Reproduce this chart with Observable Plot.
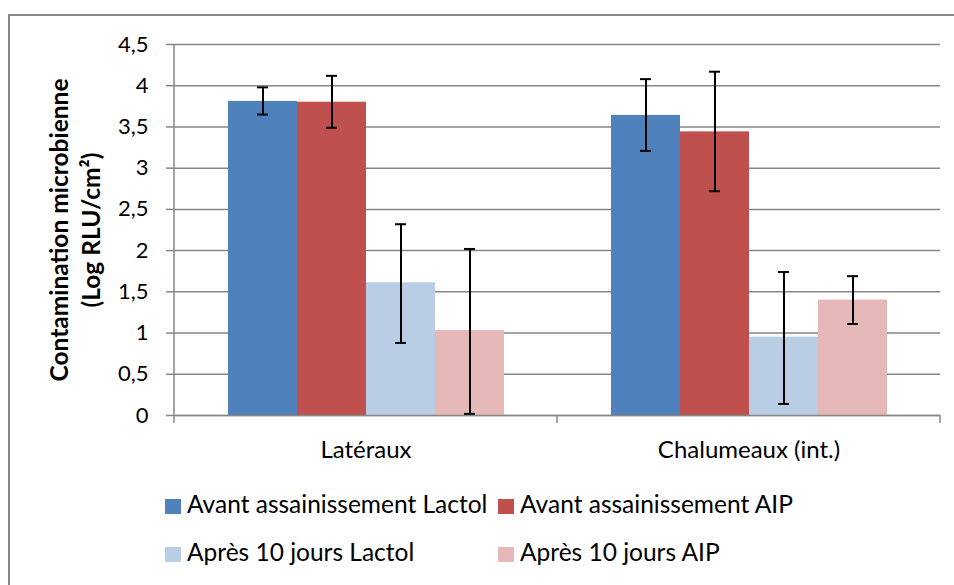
<!DOCTYPE html>
<html><head><meta charset="utf-8">
<script src="https://cdn.jsdelivr.net/npm/d3@7"></script>
<script src="https://cdn.jsdelivr.net/npm/@observablehq/plot@0.6"></script>
<style>
body{margin:0;background:#fff;font-family:Lato,"Open Sans",sans-serif;color:#000;}
#wrap{position:relative;width:954px;height:585px;overflow:hidden;background:#fff;}
#border{position:absolute;left:8px;top:14px;width:980px;height:620px;border:2px solid #878787;box-sizing:border-box;}
#chart{position:absolute;left:0;top:0;}
#ytitle{position:absolute;left:-85px;top:198px;width:320px;height:64px;transform:rotate(-90deg);transform-origin:50% 50%;text-align:center;font-weight:bold;font-size:24.5px;line-height:32px;white-space:nowrap;}
.lg{position:absolute;font-size:24.5px;line-height:28px;white-space:nowrap;}
.sw{position:absolute;width:16px;height:15px;}
</style>
</head><body>
<div id="wrap"><div id="border"></div><div id="chart"></div>
<div id="ytitle">Contamination microbienne<br>(Log RLU/cm²)</div>
<div id="legend"></div>
</div>
<script>
const categories = ["Latéraux", "Chalumeaux (int.)"];
const series = ["Avant assainissement Lactol", "Avant assainissement AIP", "Après 10 jours Lactol", "Après 10 jours AIP"];
const colors = ["#4F81BD", "#C0504D", "#B9CDE5", "#E6B9B8"];
const means = [[3.81, 3.80, 1.61, 1.03], [3.64, 3.44, 0.95, 1.40]];
const errLow = [[3.65, 3.49, 0.88, 0.02], [3.21, 2.72, 0.14, 1.11]];
const errHigh = [[3.98, 4.12, 2.32, 2.02], [4.08, 4.17, 1.74, 1.69]];
const yTicks = [0, 0.5, 1, 1.5, 2, 2.5, 3, 3.5, 4, 4.5];

const data = [];
categories.forEach((c, i) => series.forEach((s, j) => data.push({cat: c, series: s, value: means[i][j], lo: errLow[i][j], hi: errHigh[i][j]})));

const fmt = d => String(d).replace(".", ",");
const grey = "#878787";

const plot = Plot.plot({
  width: 954, height: 470,
  marginLeft: 174, marginRight: 14, marginTop: 44, marginBottom: 55,
  style: {fontFamily: "Lato, 'Open Sans', sans-serif", color: "#000", background: "transparent"},
  fx: {domain: categories, padding: 0, label: null},
  x: {domain: series, paddingInner: 0, paddingOuter: 0.755, axis: null},
  y: {domain: [0, 4.5], label: null},
  color: {domain: series, range: colors},
  marks: [
    Plot.gridY(yTicks, {stroke: grey, strokeOpacity: 1, strokeWidth: 1.5}),
    Plot.axisY(yTicks, {tickSize: 8, tickPadding: 18, stroke: grey, strokeOpacity: 1, strokeWidth: 1.5, fontSize: 22, fill: "#000", tickFormat: fmt, label: null}),
    Plot.barY(data, {fx: "cat", x: "series", y: "value", fill: "series"}),
    Plot.ruleY([0], {stroke: grey, strokeWidth: 1.5}),
    Plot.ruleX(data, {fx: "cat", x: "series", y1: "lo", y2: "hi", stroke: "#000", strokeWidth: 2}),
    Plot.tickY(data, {fx: "cat", x: "series", y: "lo", insetLeft: 29, insetRight: 29, stroke: "#000", strokeWidth: 2}),
    Plot.tickY(data, {fx: "cat", x: "series", y: "hi", insetLeft: 29, insetRight: 29, stroke: "#000", strokeWidth: 2}),
    Plot.axisFx({anchor: "bottom", tickSize: 0, tickPadding: 25, fontSize: 24, fill: "#000", label: null})
  ]
});
document.getElementById("chart").appendChild(plot);

// axis decorations derived from the library's scales
const fxS = plot.scale("fx"), yS = plot.scale("y");
const svg = d3.select(plot);
const y0 = yS.apply(0), yTop = yS.apply(4.5);
const edges = categories.map(c => fxS.apply(c)).concat([fxS.apply(categories[categories.length - 1]) + fxS.bandwidth]);
svg.append("line").attr("x1", edges[0]).attr("x2", edges[0]).attr("y1", yTop).attr("y2", y0).attr("stroke", grey).attr("stroke-width", 1.5);
edges.forEach(x => svg.append("line").attr("x1", x).attr("x2", x).attr("y1", y0).attr("y2", y0 + 8).attr("stroke", grey).attr("stroke-width", 1.5));

// legend
const lg = document.getElementById("legend");
const pos = [[165, 499], [498, 499], [165, 547], [498, 547]];
series.forEach((s, i) => {
  const sw = document.createElement("div");
  sw.className = "sw"; sw.style.left = pos[i][0] + "px"; sw.style.top = pos[i][1] + "px"; sw.style.background = colors[i];
  const t = document.createElement("div");
  t.className = "lg"; t.style.left = (pos[i][0] + 22) + "px"; t.style.top = (pos[i][1] - 9) + "px"; t.textContent = s;
  lg.appendChild(sw); lg.appendChild(t);
});
</script>
</body></html>
